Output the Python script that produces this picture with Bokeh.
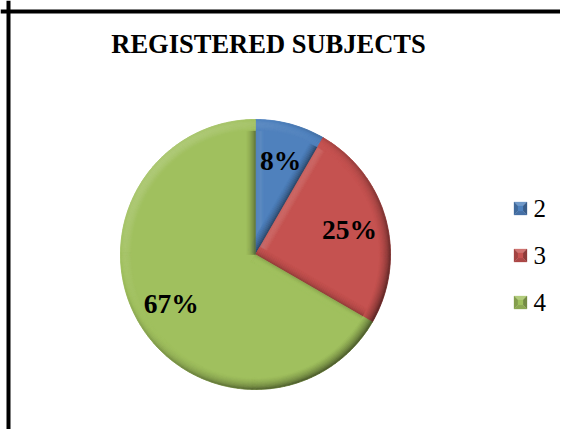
import numpy as np
from bokeh.plotting import figure
from bokeh.models import Range1d, Span
from bokeh.embed import file_html
from bokeh.resources import INLINE
from bokeh.core.properties import value

# ---- data ----
title_text = "REGISTERED SUBJECTS"
categories = ["2", "3", "4"]
counts = [1, 3, 8]
pct_labels = ["8%", "25%", "67%"]
colors = ["#4F81BD", "#C55250", "#A0C05E"]

# ---- layout (pixel-like data space) ----
W, H = 560, 429
CX, CY, R = 255, 175, 135
BEV = 11

def blend(hexc, f, kw=0.55, kb=0.5):
    c = np.array([int(hexc[i:i + 2], 16) for i in (1, 3, 5)], dtype=float)
    if f >= 0:
        c = c + (255 - c) * min(f, 1) * kw
    else:
        c = c * (1 + max(f, -1) * kb)
    c = np.clip(c, 0, 255).astype(int)
    return "#%02x%02x%02x" % tuple(c)

EL = np.deg2rad(45)

def bevel_shade(f, x, s=0.9):
    # x in [0,1]: position across bevel (0 inner, 1 at the outer edge)
    t = np.arcsin(np.clip(x, 0, 1)) * 0.92
    return s * (np.sin(t) * np.cos(EL) * f + (np.cos(t) - 1) * np.sin(EL))

p = figure(width=W, height=H, x_range=Range1d(0, W), y_range=Range1d(0, H),
           output_backend="svg", toolbar_location=None, min_border=0,
           x_axis_location=None, y_axis_location=None)
p.grid.visible = False
p.outline_line_color = None
p.background_fill_color = "white"
p.border_fill_color = "white"

vals = np.array(counts, dtype=float)
fr = vals / vals.sum()
before = np.concatenate([[0], np.cumsum(fr)[:-1]])
a_hi = np.pi / 2 - 2 * np.pi * before
a_lo = a_hi - 2 * np.pi * fr
light = np.deg2rad(135)

# base slices
p.wedge(x=CX, y=CY, radius=R, start_angle=a_lo, end_angle=a_hi,
        direction="anticlock", fill_color=colors, line_color=colors, line_width=0.5)

NB = 8
# radial edge bevels (soft)
bxs, bys, bcol = [], [], []
for i in range(len(vals)):
    for a, sgn in ((a_hi[i], 1), (a_lo[i], -1)):
        n_ang = a + sgn * np.pi / 2
        f = np.cos(n_ang - light)
        u = np.array([np.cos(a), np.sin(a)])
        n = np.array([np.cos(n_ang), np.sin(n_ang)])
        c0 = np.array([CX, CY], dtype=float)
        for b in range(NB):
            w1 = BEV * (1 - b / NB) * 0.8
            w0 = BEV * (1 - (b + 1) / NB) * 0.8
            x = (b + 0.5) / NB
            pts = [c0 - w0 * n, c0 + (R - 5) * u - w0 * n,
                   c0 + (R - 5) * u - w1 * n, c0 - w1 * n]
            bxs.append([q[0] for q in pts])
            bys.append([q[1] for q in pts])
            bcol.append(blend(colors[i], bevel_shade(f, x, 0.9)))
p.patches(xs=bxs, ys=bys, fill_color=bcol, line_color=bcol, line_width=0.4)

# rim bevel
rs, re, rc, ri, ro = [], [], [], [], []
step = np.deg2rad(2)
for i in range(len(vals)):
    nseg = max(2, int(np.ceil((a_hi[i] - a_lo[i]) / step)))
    edges = np.linspace(a_lo[i], a_hi[i], nseg + 1)
    for j in range(nseg):
        mid = 0.5 * (edges[j] + edges[j + 1])
        f = np.cos(mid - light)
        for b in range(NB):
            r0 = R - BEV + BEV * b / NB
            r1 = R - BEV + BEV * (b + 1) / NB
            x = (b + 0.5) / NB
            rs.append(edges[j])
            re.append(edges[j + 1])
            ri.append(r0)
            ro.append(r1)
            rc.append(blend(colors[i], bevel_shade(f, x, 1.0)))
p.annular_wedge(x=CX, y=CY, inner_radius=ri, outer_radius=ro, start_angle=rs,
                end_angle=re, direction="anticlock", fill_color=rc, line_color=rc,
                line_width=0.6)

# percentage labels
mid_ang = 0.5 * (a_hi + a_lo)
lr = 0.72 * R
p.text(x=CX + lr * np.cos(mid_ang), y=CY + lr * np.sin(mid_ang), text=pct_labels,
       text_font=value("Liberation Serif"), text_font_style="bold",
       text_font_size="27.5px", text_align="center", text_baseline="middle",
       text_color="black")

# title
p.text(x=[268], y=[386], text=[title_text], text_font=value("Liberation Serif"),
       text_font_style="bold", text_font_size="26.5px", text_align="center",
       text_baseline="alphabetic", text_color="black")

# legend (bevelled squares)
LX, S, B = 520, 13, 4
ly = [221 - 47 * k for k in range(len(categories))]
lxs, lys, lcs = [], [], []
for k, yy in enumerate(ly):
    x0, x1, y0, y1 = LX - S / 2, LX + S / 2, yy - S / 2, yy + S / 2
    sides = [
        ([x0, x1, x1 - B, x0 + B], [y1, y1, y1 - B, y1 - B], 0.35),   # top
        ([x0, x0 + B, x0 + B, x0], [y0, y0 + B, y1 - B, y1], -0.35),  # left
        ([x1, x1 - B, x1 - B, x1], [y0, y0 + B, y1 - B, y1], -0.55),  # right
        ([x0, x1, x1 - B, x0 + B], [y0, y0, y0 + B, y0 + B], -0.25),  # bottom
        ([x0 + B, x1 - B, x1 - B, x0 + B], [y0 + B, y0 + B, y1 - B, y1 - B], 0.0),
    ]
    for xs_, ys_, f in sides:
        lxs.append(xs_)
        lys.append(ys_)
        lcs.append(blend(colors[k], f))
p.patches(xs=lxs, ys=lys, fill_color=lcs, line_color=lcs, line_width=0.3)
p.text(x=[533] * len(categories), y=ly, text=categories,
       text_font=value("Liberation Serif"), text_font_size="25px",
       text_align="left", text_baseline="middle", text_color="black")

# frame border (left and top edges visible in the crop)
p.add_layout(Span(location=8, dimension="height", line_color="black", line_width=4))
p.add_layout(Span(location=418, dimension="width", line_color="black", line_width=4))

open("out.html", "w").write(file_html(p, INLINE))
